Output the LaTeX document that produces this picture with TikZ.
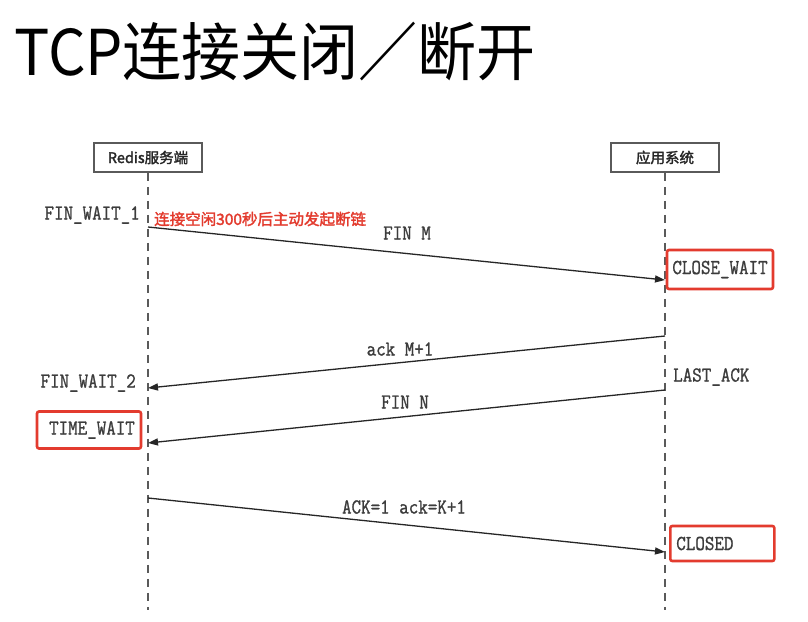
\documentclass[tikz,border=0pt]{standalone}
\usepackage{fontspec}
\usepackage{graphicx}
\usetikzlibrary{arrows.meta}
\setmainfont{Liberation Serif}
\newfontfamily\cjk{Noto Sans CJK SC}
\newfontfamily\cjkb{Noto Sans CJK SC}[FakeBold=2]
\newfontfamily\monof{Latin Modern Mono}[FakeBold=1.2]
\newcommand\talltxt[1]{\scalebox{1}[1.15]{#1}}
\newcommand\tallttl[1]{\scalebox{1}[1.07]{#1}}
\definecolor{redline}{HTML}{E33B2E}
\definecolor{labgray}{HTML}{3C3C3C}
\definecolor{boxgray}{HTML}{5A5A5A}
\tikzset{
  actor/.style={draw=boxgray, line width=1.6pt, fill=white, minimum width=108pt, minimum height=29pt,
    inner sep=0pt, font=\cjkb\fontsize{14.5}{14.5}\selectfont, text=black!85},
  life/.style={draw=boxgray, line width=1.5pt, dash pattern=on 8pt off 6pt},
  msg/.style={draw=black!85, line width=1.3pt, -{Triangle[length=10pt,width=7pt]}},
  lbl/.style={inner sep=0pt, text=labgray, font=\monof\fontsize{18.5}{18.5}\selectfont},
  redbox/.style={draw=redline, line width=2.6pt, rounded corners=2pt, inner sep=0pt,
    text=labgray, font=\monof\fontsize{18.5}{18.5}\selectfont},
}
\begin{document}
\begin{tikzpicture}[x=1pt,y=-1pt]
\useasboundingbox[fill=white] (0,0) rectangle (808,621);
% title
\node[anchor=base west, inner sep=0pt, font=\cjk\fontsize{59}{59}\selectfont] (title) at (14,75) {\tallttl{TCP连接关闭／断开}};
% actors
\node[actor] (redis) at (148,157.5) {Redis服务端};
\node[actor] (app) at (665,157.5) {应用系统};
\coordinate (redisend) at (148,610);
\coordinate (append) at (665,610);
\draw[life] (redis) -- (redisend);
\draw[life] (app) -- (append);
% message end points
\coordinate (l1) at (148,227);
\coordinate (r1) at (665,280);
\coordinate (r2) at (665,336);
\coordinate (l2) at (148,388);
\coordinate (r3) at (665,390);
\coordinate (l3) at (148,443);
\coordinate (l4) at (148,498);
\coordinate (r4) at (665,552);
% state boxes
\node[redbox, minimum width=106pt, minimum height=39pt] (closewait) at (720,269.5) {\talltxt{CLOSE\_WAIT}};
\node[redbox, minimum width=104pt, minimum height=37pt] (timewait) at (89,430) {\hspace{6pt}\talltxt{TIME\_WAIT}};
\node[redbox, anchor=west, minimum height=35pt, text width=92pt, inner xsep=6pt, align=left] (closed) at (669,543.5) {\talltxt{CLOSED}};
% messages
\draw[msg] (l1) -- (r1);
\draw[msg] (r2) -- (l2);
\draw[msg] (r3) -- (l3);
\draw[msg] (l4) -- (r4);
% labels
\node[lbl, anchor=east] (fw1) at (140,215) {\talltxt{FIN\_WAIT\_1}};
\node[anchor=west, inner sep=0pt, text=redline, font=\cjkb\fontsize{15.5}{15.5}\selectfont] (note) at (154,219) {连接空闲300秒后主动发起断链};
\node[lbl] (finm) at (407,233) {\talltxt{FIN M}};
\node[lbl] (ackm) at (400,349) {\talltxt{ack M+1}};
\node[lbl, anchor=east] (fw2) at (136,383) {\talltxt{FIN\_WAIT\_2}};
\node[lbl, anchor=west] (lastack) at (673,377) {\talltxt{LAST\_ACK}};
\node[lbl] (finn) at (405,402) {\talltxt{FIN N}};
\node[lbl] (ackk) at (404,507) {\talltxt{ACK=1 ack=K+1}};
\end{tikzpicture}
\end{document}
